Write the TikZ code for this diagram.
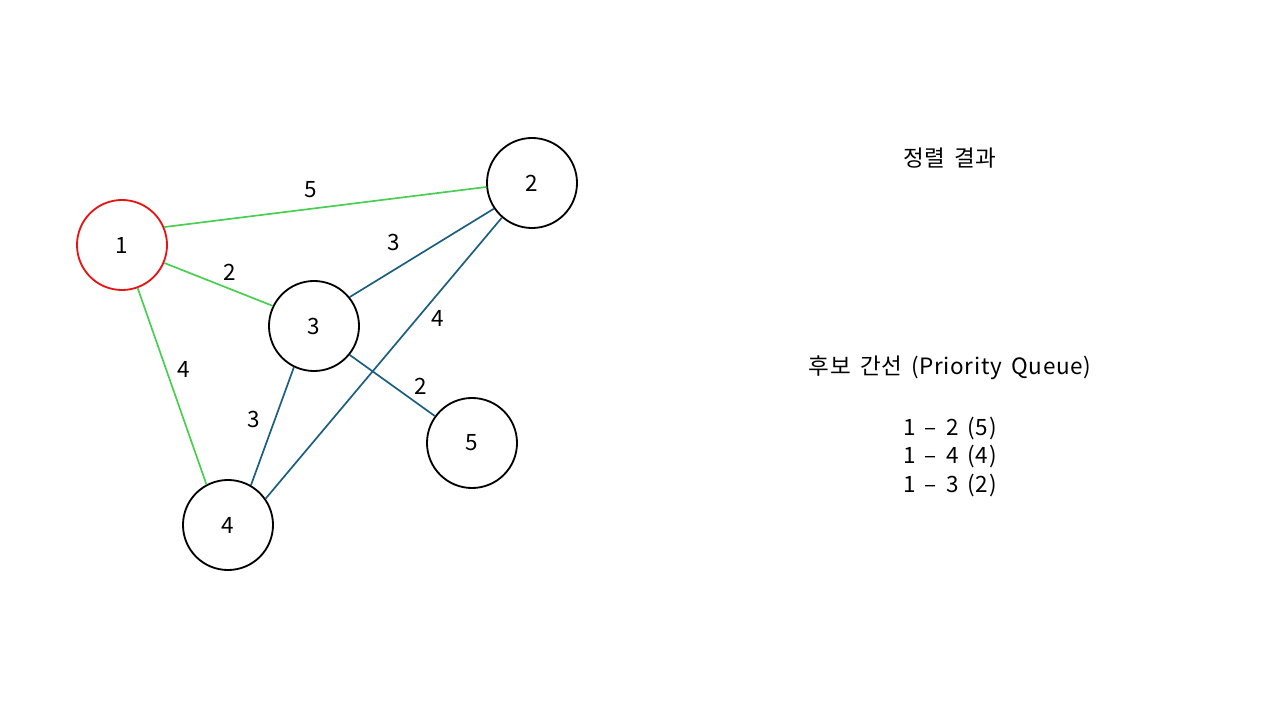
\documentclass[tikz,border=0pt]{standalone}
\usepackage{fontspec}
\setmainfont{Noto Sans CJK KR}[LetterSpace=3, WordSpace=1.6]
\usetikzlibrary{positioning}
\definecolor{MSTGreen}{RGB}{72,206,80}
\definecolor{MSTBlue}{RGB}{26,94,128}
\definecolor{MSTRed}{RGB}{232,20,20}

\begin{document}
\begin{tikzpicture}[x=0.025cm, y=-0.025cm,
          vert/.style={circle, draw=black, line width=1.3pt, fill=white,
                       minimum size=2.25cm, inner sep=0pt,
                       font=\fontsize{16}{19}\selectfont},
          start/.style={vert, draw=MSTRed},
          picked/.style={MSTGreen, line width=1.2pt},
          cand/.style={MSTBlue, line width=1.2pt},
          wt/.style={font=\fontsize{16}{19}\selectfont},
          info/.style={font=\fontsize{16}{20.2}\selectfont, align=center}
        ]
        \useasboundingbox (0,0) rectangle (1280,720);
        % Graph (left)
        \node[start] (v1) at (122,245) {1};
        \node[vert] (v2) at (532,183) {2};
        \node[vert] (v3) at (314,326) {3};
        \node[vert] (v4) at (228,525) {4};
        \node[vert] (v5) at (472,443) {5};
        \draw[picked] (v1.23)--(v2.185);
        \draw[picked] (v1.-23)--(v3.154);
        \draw[picked] (v1.-70)--(v4.118);
        \draw[cand] (v2.214)--(v3.39);
        \draw[cand] (v2.229)--(v4.35);
        \draw[cand] (v3.244)--(v4.60);
        \draw[cand] (v3.-39)--(v5.144);
        \node[wt] (w12) at (311,190) {5};
        \node[wt] (w13) at (230,272) {2};
        \node[wt] (w14) at (184,369) {4};
        \node[wt] (w23) at (394,242) {3};
        \node[wt] (w24) at (438,318) {4};
        \node[wt] (w34) at (254,419) {3};
        \node[wt] (w35) at (421,386) {2};

        % Result and queue (right)
        \node[info] (result) at (950,158) {정렬 결과};
        \node[info] (queue) at (950,368) {후보 간선 (Priority Queue)};
        \node[info] (items) at (950,457) {1 – 2 (5)\\1 – 4 (4)\\1 – 3 (2)};
      \end{tikzpicture}
\end{document}
